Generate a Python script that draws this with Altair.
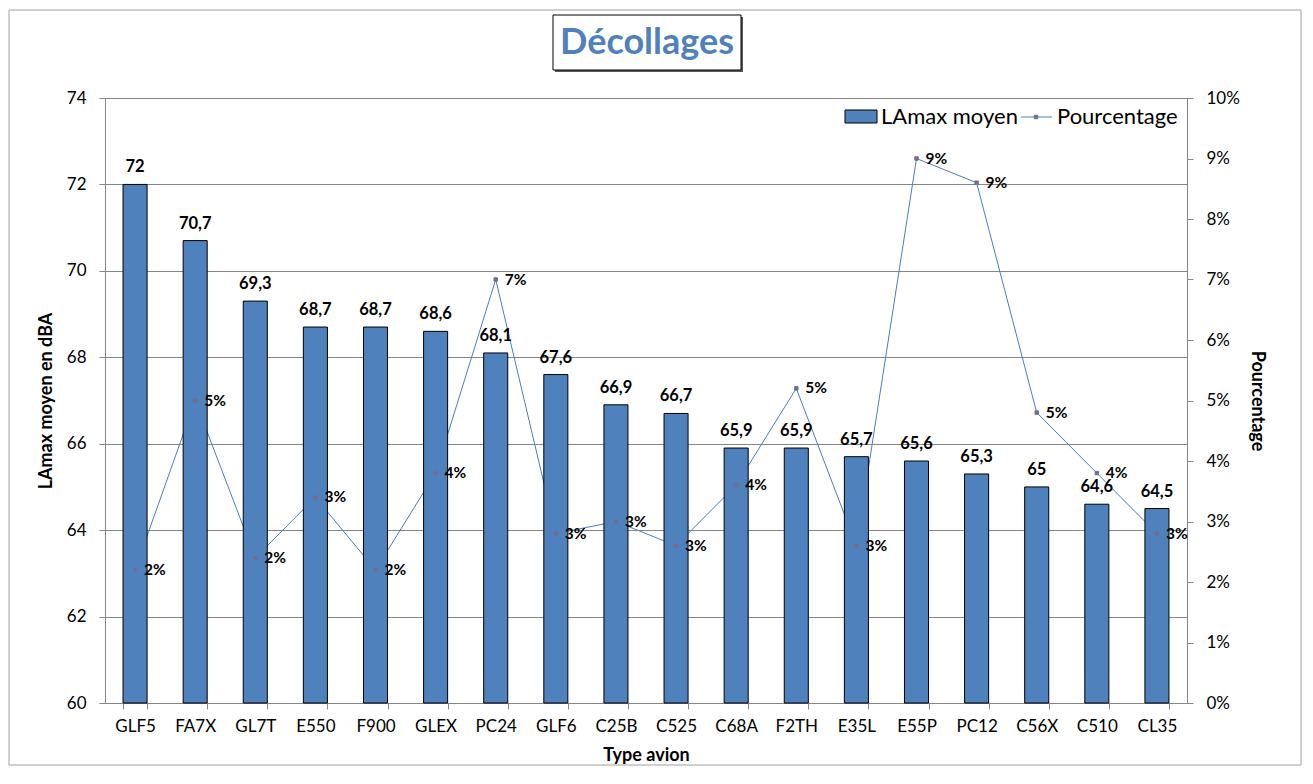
import altair as alt
import pandas as pd

types = ["GLF5", "FA7X", "GL7T", "E550", "F900", "GLEX", "PC24", "GLF6", "C25B",
         "C525", "C68A", "F2TH", "E35L", "E55P", "PC12", "C56X", "C510", "CL35"]
lamax = [72, 70.7, 69.3, 68.7, 68.7, 68.6, 68.1, 67.6, 66.9,
         66.7, 65.9, 65.9, 65.7, 65.6, 65.3, 65, 64.6, 64.5]
pct = [0.022, 0.050, 0.024, 0.034, 0.022, 0.038, 0.070, 0.028, 0.030,
       0.026, 0.036, 0.052, 0.026, 0.090, 0.086, 0.048, 0.038, 0.028]
left_ticks = [60, 62, 64, 66, 68, 70, 72, 74]
right_ticks = [0, 0.01, 0.02, 0.03, 0.04, 0.05, 0.06, 0.07, 0.08, 0.09, 0.10]

df = pd.DataFrame({"type": types, "lamax": lamax, "pct": pct})
one = pd.DataFrame({"k": [0]})

W, H = 1082, 605
BLUE = "#4F81BD"
LINE = "#4A7EBB"
RED = "#C0504D"
GRAY = "#868686"
FONT = "Lato"

base = alt.Chart(df)

x_enc = alt.X(
    "type:N", sort=types, title="Type avion",
    scale=alt.Scale(paddingInner=0.6, paddingOuter=0.3),
    axis=alt.Axis(labelAngle=0, tickBand="extent", labelFontSize=17, labelColor="#000000",
                  labelPadding=9, tickSize=6, tickColor=GRAY, domainColor=GRAY,
                  titleFontSize=18, titleFontWeight="bold", titlePadding=12, grid=False,
                  labelFont=FONT, titleFont=FONT),
)

lscale = alt.Scale(domain=[60, 74], zero=False, nice=False)
rscale = alt.Scale(domain=[0, 0.1], zero=False, nice=False)

bars = base.mark_bar(color=BLUE, stroke="#000000", strokeWidth=1).encode(
    x=x_enc,
    y=alt.Y("lamax:Q", scale=lscale,
            axis=alt.Axis(orient="left", values=left_ticks, title="LAmax moyen en dBA",
                          grid=True, gridColor=GRAY, domainColor=GRAY, tickColor=GRAY,
                          tickSize=6, labelFontSize=17, labelColor="#000000", labelPadding=13,
                          titleFontSize=18, titleFontWeight="bold", titlePadding=11,
                          labelFont=FONT, titleFont=FONT)),
    y2=alt.datum(60),
)

line = base.mark_line(color=LINE, strokeWidth=1).encode(
    x=x_enc,
    y=alt.Y("pct:Q", scale=rscale,
            axis=alt.Axis(orient="right", values=right_ticks, format=".0%", title="Pourcentage",
                          grid=False, domainColor=GRAY, tickColor=GRAY, tickSize=6,
                          labelFontSize=17, labelColor="#000000", labelPadding=13,
                          titleFontSize=18, titleFontWeight="bold", titlePadding=8,
                          labelFont=FONT, titleFont=FONT)),
)

points = base.mark_point(shape="square", size=12, filled=True, color=RED,
                         stroke=LINE, strokeWidth=1, opacity=1).encode(
    x=x_enc,
    y=alt.Y("pct:Q", scale=rscale, axis=None),
)

bar_labels = base.transform_calculate(
    lab="replace(format(datum.lamax, '.1~f'), '.', ',')"
).mark_text(fontSize=16.5, fontWeight="bold", font=FONT, color="#000000",
            baseline="alphabetic", dy=-12).encode(
    x=x_enc,
    y=alt.Y("lamax:Q", scale=lscale, axis=None),
    text="lab:N",
)

pct_labels = base.mark_text(fontSize=15.5, fontWeight="bold", font=FONT, color="#000000",
                            align="left", baseline="middle", dx=9, dy=0).encode(
    x=x_enc,
    y=alt.Y("pct:Q", scale=rscale, axis=None),
    text=alt.Text("pct:Q", format=".0%"),
)

dec = alt.Chart(one)

border = dec.mark_rect(fill=None, stroke="#A0A0A0", strokeWidth=1).encode(
    x=alt.value(-96), x2=alt.value(W + 114), y=alt.value(-88), y2=alt.value(H + 62))

title_shadow = dec.mark_rect(fill="#5A5A5A").encode(
    x=alt.value(450), x2=alt.value(638), y=alt.value(-81), y2=alt.value(-26))
title_box = dec.mark_rect(fill="#FFFFFF", stroke="#000000", strokeWidth=1).encode(
    x=alt.value(448), x2=alt.value(636), y=alt.value(-83), y2=alt.value(-28))
title_text = dec.mark_text(text="Décollages", fontSize=36, fontWeight="bold", font=FONT,
                           color="#4F81BD", align="center", baseline="middle").encode(
    x=alt.value(542), y=alt.value(-55))

leg_rect = dec.mark_rect(fill=BLUE, stroke="#000000", strokeWidth=1).encode(
    x=alt.value(740), x2=alt.value(772), y=alt.value(12), y2=alt.value(25))
leg_text1 = dec.mark_text(text="LAmax moyen", fontSize=22, font=FONT, color="#000000",
                          align="left", baseline="middle").encode(
    x=alt.value(776), y=alt.value(19))
leg_line = dec.mark_rule(color=LINE, strokeWidth=1).encode(
    x=alt.value(916), x2=alt.value(947), y=alt.value(19))
leg_pt = dec.mark_point(shape="square", size=12, filled=True, color=RED,
                        stroke=LINE, strokeWidth=1, opacity=1).encode(
    x=alt.value(931), y=alt.value(19))
leg_text2 = dec.mark_text(text="Pourcentage", fontSize=22, font=FONT, color="#000000",
                          align="left", baseline="middle").encode(
    x=alt.value(952), y=alt.value(19))

chart = alt.layer(
    border, line, bars, points, bar_labels, pct_labels,
    title_shadow, title_box, title_text,
    leg_rect, leg_text1, leg_line, leg_pt, leg_text2,
).resolve_scale(y="independent").properties(
    width=W, height=H,
    autosize=alt.AutoSizeParams(type="none"),
    padding={"left": 97, "top": 90, "right": 116, "bottom": 64},
).configure_view(stroke=None).configure(font=FONT)

chart.save("out.html", embed_options={"renderer": "svg", "actions": False})
